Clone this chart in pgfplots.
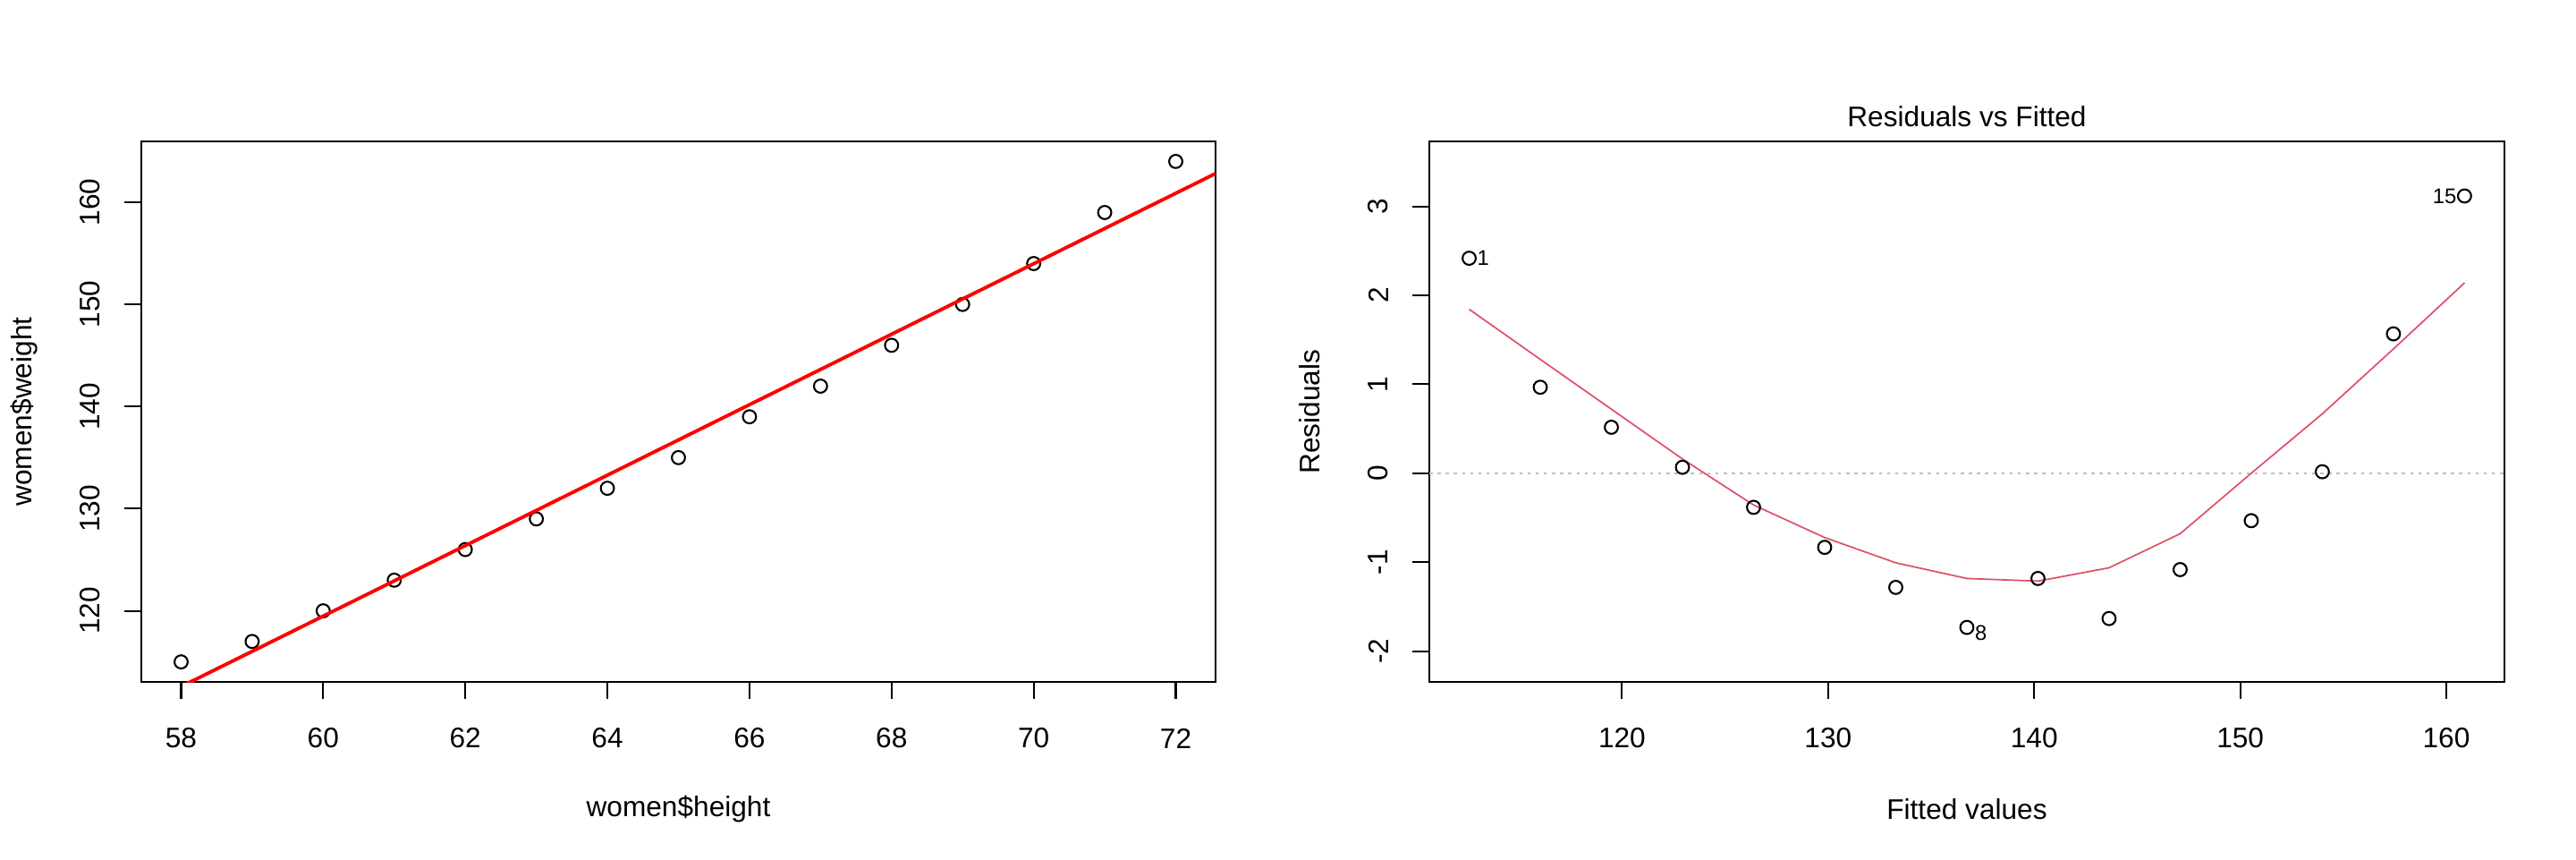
\documentclass[border=0pt]{standalone}
\usepackage{pgfplots}
\pgfplotsset{compat=1.18}
\usepackage{fontspec}
\setmainfont{Liberation Sans}
\definecolor{rred}{HTML}{DF536B}
\definecolor{rgray}{HTML}{BEBEBE}
\begin{document}
\fontsize{9}{11}\selectfont
\begin{tikzpicture}
\path[use as bounding box] (0,0) rectangle (28.8cm,9.6cm);
\pgfplotsset{
  rstyle/.style={
    scale only axis,
    axis line style={line width=0.6pt},
    tick style={line width=0.6pt, black},
    tick align=outside,
    major tick length=0.19cm,
    xtick pos=bottom, ytick pos=left,
    /pgf/number format/assume math mode=true,
    ticklabel style={font=\fontsize{9}{11}\selectfont},
    xticklabel style={anchor=center, yshift=-0.44cm},
    yticklabel style={rotate=90, anchor=center, yshift=0.38cm},
    label style={font=\fontsize{9}{11}\selectfont},
    xlabel style={at={(0.5,0)}, anchor=center, yshift=-1.42cm},
    ylabel style={at={(0,0.5)}, anchor=center},
    clip mode=individual,
  }
}
\begin{axis}[rstyle,
  at={(1.58cm,1.98cm)}, anchor=south west,
  width=12.01cm, height=6.04cm,
  xmin=57.44, xmax=72.56, ymin=113.04, ymax=165.96,
  xtick={58,60,...,72}, ytick={120,130,...,160},
  xlabel={women\$height}, ylabel={women\$weight},
  ylabel style={yshift=1.31cm},
]
\addplot[only marks, mark=o, mark size=2.1pt, mark options={line width=0.6pt, black}] coordinates {
(58,115) (59,117) (60,120) (61,123) (62,126) (63,129) (64,132) (65,135)
(66,139) (67,142) (68,146) (69,150) (70,154) (71,159) (72,164)};
\addplot[red, line width=1.1pt] coordinates {(57.44,110.651) (72.56,162.815)};
\end{axis}
\begin{axis}[rstyle,
  at={(15.98cm,1.98cm)}, anchor=south west,
  width=12.02cm, height=6.04cm,
  xmin=110.65, xmax=162.82, ymin=-2.346, ymax=3.73,
  xtick={120,130,...,160}, ytick={-2,-1,...,3},
  xlabel={Fitted values}, ylabel={Residuals},
  ylabel style={yshift=1.34cm},
  title={Residuals vs Fitted},
  every axis title/.style={at={(0.5,1)}, anchor=center, yshift=0.28cm, font=\fontsize{9}{11}\selectfont},
]
\addplot[rgray, line width=0.6pt, dash pattern=on 1pt off 1.6pt] coordinates {(110.65,0) (162.82,0)};
\addplot[rred, line width=0.5pt] coordinates {
(112.5833,1.843) (116.0333,1.28) (119.4833,0.72) (122.9333,0.16) (126.3833,-0.357)
(129.8333,-0.723) (133.2833,-1.007) (136.7333,-1.183) (140.1833,-1.213) (143.6333,-1.063)
(147.0833,-0.68) (150.5333,0.0) (153.9833,0.668) (157.4333,1.397) (160.8833,2.14)};
\addplot[only marks, mark=o, mark size=2.1pt, mark options={line width=0.6pt, black}] coordinates {
(112.5833,2.4167) (116.0333,0.9667) (119.4833,0.5167) (122.9333,0.0667) (126.3833,-0.3833)
(129.8333,-0.8333) (133.2833,-1.2833) (136.7333,-1.7333) (140.1833,-1.1833) (143.6333,-1.6333)
(147.0833,-1.0833) (150.5333,-0.5333) (153.9833,0.0167) (157.4333,1.5667) (160.8833,3.1167)};
\node[anchor=west, inner sep=0pt, font=\fontsize{6.75}{8}\selectfont, xshift=2.4pt] at (axis cs:112.5833,2.4167) {1};
\node[anchor=west, inner sep=0pt, font=\fontsize{6.75}{8}\selectfont, xshift=2.4pt] at (axis cs:136.7333,-1.80) {8};
\node[anchor=east, inner sep=0pt, font=\fontsize{6.75}{8}\selectfont, xshift=-2.4pt] at (axis cs:160.8833,3.1167) {15};
\end{axis}
\end{tikzpicture}
\end{document}
